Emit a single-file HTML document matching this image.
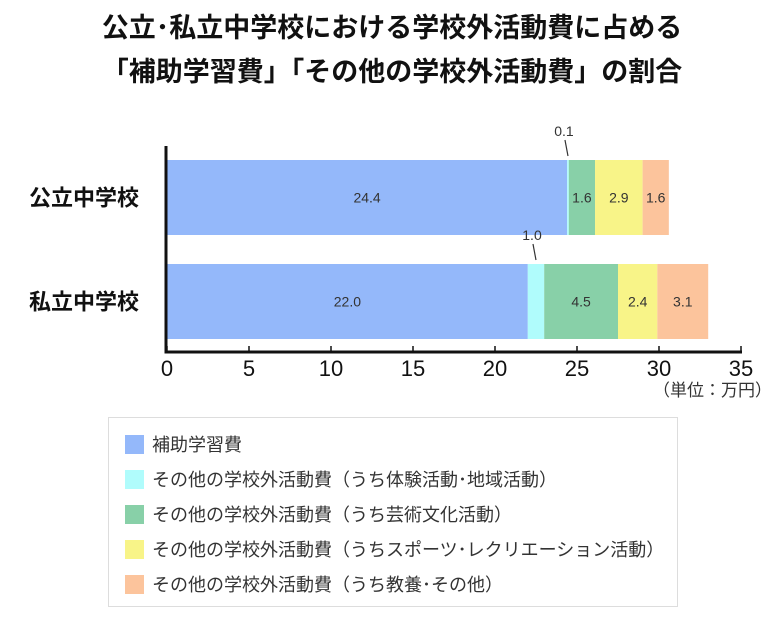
<!DOCTYPE html>
<html><head><meta charset="utf-8"><style>
body{margin:0;background:#fff;font-family:"Liberation Sans","Noto Sans CJK JP",sans-serif;}
#wrap{position:relative;width:784px;height:618px;overflow:hidden;}
.title{position:absolute;left:0;width:784px;text-align:center;font-weight:bold;font-size:27px;color:#111;line-height:32px;}
.leg{position:absolute;left:108px;top:417px;width:568px;height:188px;border:1.5px solid #ddd;}
.li{position:absolute;left:16px;height:22px;font-size:18px;color:#333;line-height:22px;white-space:nowrap;}
.sw{display:inline-block;width:19px;height:19px;vertical-align:-3px;margin-right:8px;}
</style></head><body><div id="wrap">
<div class="title" style="top:12px">公立･私立中学校における学校外活動費に占める</div>
<div class="title" style="top:56px">「補助学習費」「その他の学校外活動費」の割合</div>
<svg id="svg" width="784" height="418" style="position:absolute;left:0;top:0"></svg>
<div class="leg">
<div class="li" style="top:16px"><span class="sw" style="background:#94b8fa"></span>補助学習費</div>
<div class="li" style="top:51px"><span class="sw" style="background:#b0fcfc"></span>その他の学校外活動費（うち体験活動･地域活動）</div>
<div class="li" style="top:86px"><span class="sw" style="background:#88d0a8"></span>その他の学校外活動費（うち芸術文化活動）</div>
<div class="li" style="top:121px"><span class="sw" style="background:#f8f488"></span>その他の学校外活動費（うちスポーツ･レクリエーション活動）</div>
<div class="li" style="top:156px"><span class="sw" style="background:#fcc49c"></span>その他の学校外活動費（うち教養･その他）</div>
</div>
</div>
<script>
const categories=["公立中学校","私立中学校"];
const hojo=[24.4,22.0];
const taiken=[0.1,1.0];
const geijutsu=[1.6,4.5];
const sports=[2.9,2.4];
const kyoyo=[1.6,3.1];
const ticks=[0,5,10,15,20,25,30,35];
const series=[hojo,taiken,geijutsu,sports,kyoyo];
const names=["hojo","taiken","geijutsu","sports","kyoyo"];
const colors=["#94b8fa","#b0fcfc","#88d0a8","#f8f488","#fcc49c"];
const svg=document.getElementById('svg');const NS="http://www.w3.org/2000/svg";
const x0=167,x1=741,xmax=35;const xs=v=>x0+v*(x1-x0)/xmax;
const barTop=[160,264],barH=75,axisY=352;
function mk(t,a,txt){const e=document.createElementNS(NS,t);for(const k in a)e.setAttribute(k,a[k]);if(txt!=null)e.textContent=txt;svg.appendChild(e);return e;}
categories.forEach((c,i)=>{
 let acc=0;
 series.forEach((s,j)=>{
  const v=s[i];const r=mk('rect',{x:xs(acc),y:barTop[i],width:xs(acc+v)-xs(acc),height:barH,fill:colors[j]});
  
  
  const cx=(xs(acc)+xs(acc+v))/2;
  if(j===1){
   const l=mk('line',{x1:cx-3,y1:barTop[i]-20,x2:cx,y2:barTop[i]-4,stroke:'#333','stroke-width':1.2});
   
   
   const t=mk('text',{x:cx-4,y:barTop[i]-24,'text-anchor':'middle','font-size':14,fill:'#333'},v.toFixed(1));
   
   
  }else{
   const t=mk('text',{x:cx,y:barTop[i]+barH/2+5,'text-anchor':'middle','font-size':14,fill:'#333'},v.toFixed(1));
   
   
  }
  acc+=v;
 });
 const cl=mk('text',{x:84,y:barTop[i]+barH/2+8,'text-anchor':'middle','font-size':22,'font-weight':'bold',fill:'#111'},c);
 
 
});
const ya=mk('line',{x1:x0-1,y1:146,x2:x0-1,y2:axisY+1.5,stroke:'#111','stroke-width':3});


const xa=mk('line',{x1:x0-2.5,y1:axisY,x2:x1+1,y2:axisY,stroke:'#111','stroke-width':3});


ticks.forEach(t=>{
 const tl=mk('line',{x1:xs(t),y1:axisY-6,x2:xs(t),y2:axisY,stroke:'#111','stroke-width':1.5});
 
 
 const tx=mk('text',{x:xs(t),y:376,'text-anchor':'middle','font-size':22,fill:'#111'},t);
 
 
});
const u=mk('text',{x:772,y:396,'text-anchor':'end','font-size':17,fill:'#333'},'（単位：万円）');


</script></body></html>
